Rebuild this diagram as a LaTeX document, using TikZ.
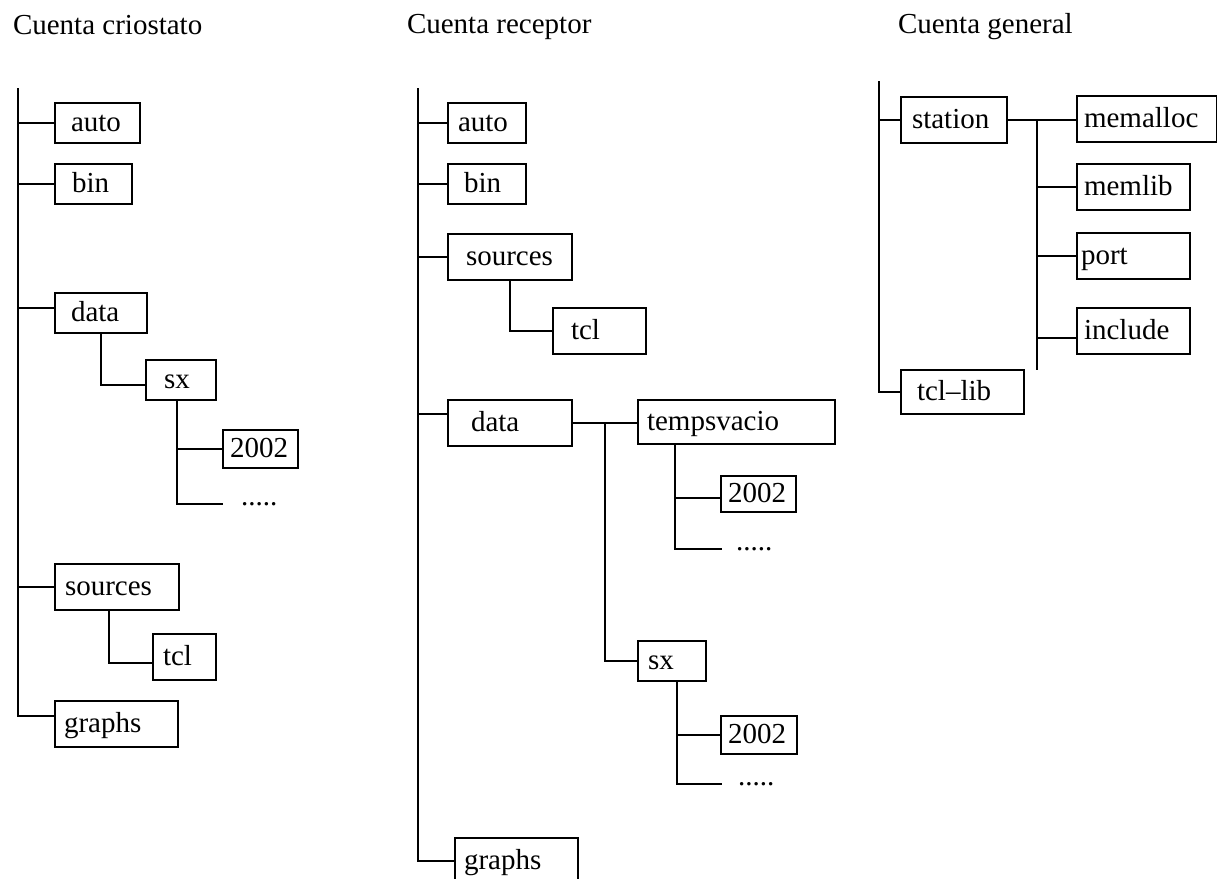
\documentclass[tikz,border=0pt]{standalone}
\usepackage{fontspec}
\setmainfont{Liberation Serif}
\usetikzlibrary{calc}

\begin{document}
\begin{tikzpicture}[x=1pt,y=1pt,yscale=-1,xscale=1,line width=2pt,
    dir/.style={draw, anchor=north west, inner ysep=0pt, align=left,
      text height=17pt, text depth=0pt, font=\fontsize{29}{32}\selectfont},
    dots/.style={anchor=base west, inner sep=0pt, font=\fontsize{29}{32}\selectfont},
    title/.style={anchor=base west, inner sep=0pt, font=\fontsize{29}{32}\selectfont}]
\useasboundingbox (0,0) rectangle (1217,878);

% Titles
\node [title] (t-crio) at (12,34) {Cuenta criostato};
\node [title] (t-recep) at (406,33) {Cuenta receptor};
\node [title] (t-gen) at (897,33) {Cuenta general};

% Cuenta criostato
\node [dir, text width=53pt, inner xsep=16pt, minimum height=40pt] (c-auto) at (54,102) {auto};
\node [dir, text width=43pt, inner xsep=17pt, minimum height=40pt] (c-bin) at (54,163) {bin};
\node [dir, text width=60pt, inner xsep=16pt, minimum height=40pt] (c-data) at (54,292) {data};
\node [dir, text width=34pt, inner xsep=18pt, minimum height=40pt] (c-sx) at (145,359) {sx};
\node [dir, text width=61pt, inner xsep=7pt, minimum height=38pt] (c-y2002) at (222,429) {2002};
\node [dir, text width=104pt, inner xsep=10pt, minimum height=46pt] (c-sources) at (54,563) {sources};
\node [dir, text width=43pt, inner xsep=10pt, minimum height=46pt] (c-tcl) at (152,633) {tcl};
\node [dir, text width=105pt, inner xsep=9pt, minimum height=46pt] (c-graphs) at (54,700) {graphs};
\node [dots] (c-more) at (240,505) {.....};

\coordinate (c-root) at (18,88);
\coordinate (c-more-end) at (223,504);
\draw (c-root) |- ($(c-graphs.west)+(0,-8)$);
\draw (c-root |- c-auto.west) -- (c-auto.west);
\draw (c-root |- c-bin.west) -- (c-bin.west);
\draw ($(c-root |- c-data.west)+(0,-5)$) -- ($(c-data.west)+(0,-5)$);
\draw (c-root |- c-sources.west) -- (c-sources.west);
\draw (c-data.south) |- ($(c-sx.west)+(0,5)$);
\draw ($(c-sx.south)+(-4,0)$) |- (c-y2002.west);
\draw ($(c-sx.south)+(-4,0)$) |- (c-more-end);
\draw ($(c-sources.south)+(-8,0)$) |- ($(c-tcl.west)+(0,6)$);

% Cuenta receptor
\node [dir, text width=58pt, inner xsep=10pt, minimum height=40pt] (r-auto) at (447,102) {auto};
\node [dir, text width=46pt, inner xsep=16pt, minimum height=40pt] (r-bin) at (447,163) {bin};
\node [dir, text width=88pt, inner xsep=18pt, minimum height=46pt] (r-sources) at (447,233) {sources};
\node [dir, text width=57pt, inner xsep=18pt, minimum height=46pt] (r-tcl) at (552,307) {tcl};
\node [dir, text width=78pt, inner xsep=23pt, minimum height=46pt] (r-data) at (447,399) {data};
\node [dir, text width=179pt, inner xsep=9pt, minimum height=44pt] (r-temp) at (637,399) {tempsvacio};
\node [dir, text width=61pt, inner xsep=7pt, minimum height=36pt] (r-y2002a) at (720,475) {2002};
\node [dir, text width=48pt, inner xsep=10pt, minimum height=40pt] (r-sx) at (637,640) {sx};
\node [dir, text width=62pt, inner xsep=7pt, minimum height=38pt] (r-y2002b) at (720,715) {2002};
\node [dir, text width=105pt, inner xsep=9pt, minimum height=46pt] (r-graphs) at (454,837) {graphs};
\node [dots] (r-more1) at (735,550) {.....};
\node [dots] (r-more2) at (737,785) {.....};

\coordinate (r-root) at (418,88);
\coordinate (r-fork) at ($(r-data.east)!0.5!(r-data.east -| r-temp.west)$);
\coordinate (r-tstem) at ($(r-temp.south west)+(38,0)$);
\coordinate (r-sstem) at ($(r-sx.south)+(5,0)$);
\coordinate (r-more1-end) at (722,549);
\coordinate (r-more2-end) at (722,784);
\draw (r-root) |- (r-graphs.west);
\draw (r-root |- r-auto.west) -- (r-auto.west);
\draw (r-root |- r-bin.west) -- (r-bin.west);
\draw (r-root |- r-sources.west) -- (r-sources.west);
\draw ($(r-root |- r-data.west)+(0,-9)$) -- ($(r-data.west)+(0,-9)$);
\draw (r-sources.south) |- (r-tcl.west);
\draw (r-data.east) -- (r-data.east -| r-temp.west);
\draw (r-fork) |- (r-sx.west);
\draw (r-tstem) |- ($(r-y2002a.west)+(0,4)$);
\draw (r-tstem) |- (r-more1-end);
\draw (r-sstem) |- (r-y2002b.west);
\draw (r-sstem) |- (r-more2-end);

% Cuenta general
\node [dir, text width=84pt, inner xsep=11pt, minimum height=46pt] (g-station) at (900,96) {station};
\node [dir, text width=126pt, inner xsep=7pt, minimum height=46pt] (g-memalloc) at (1076,95) {memalloc};
\node [dir, text width=99pt, inner xsep=7pt, minimum height=46pt] (g-memlib) at (1076,163) {memlib};
\node [dir, text width=105pt, inner xsep=4pt, minimum height=46pt] (g-port) at (1076,232) {port};
\node [dir, text width=99pt, inner xsep=7pt, minimum height=46pt] (g-include) at (1076,307) {include};
\node [dir, text width=91pt, inner xsep=16pt, minimum height=44pt] (g-tcllib) at (900,369) {tcl--lib};

\coordinate (g-root) at (879,81);
\coordinate (g-end) at (1037,370);
\draw (g-root) |- (g-tcllib.west);
\draw (g-root |- g-station.west) -- (g-station.west);
\draw (g-station.east) -- (g-station.east -| g-memalloc.west);
\draw (g-station.east -| g-end) -- (g-end);
\draw (g-end |- g-memlib.west) -- (g-memlib.west);
\draw (g-end |- g-port.west) -- (g-port.west);
\draw ($(g-end |- g-include.west)+(0,7)$) -- ($(g-include.west)+(0,7)$);

\end{tikzpicture}
\end{document}
